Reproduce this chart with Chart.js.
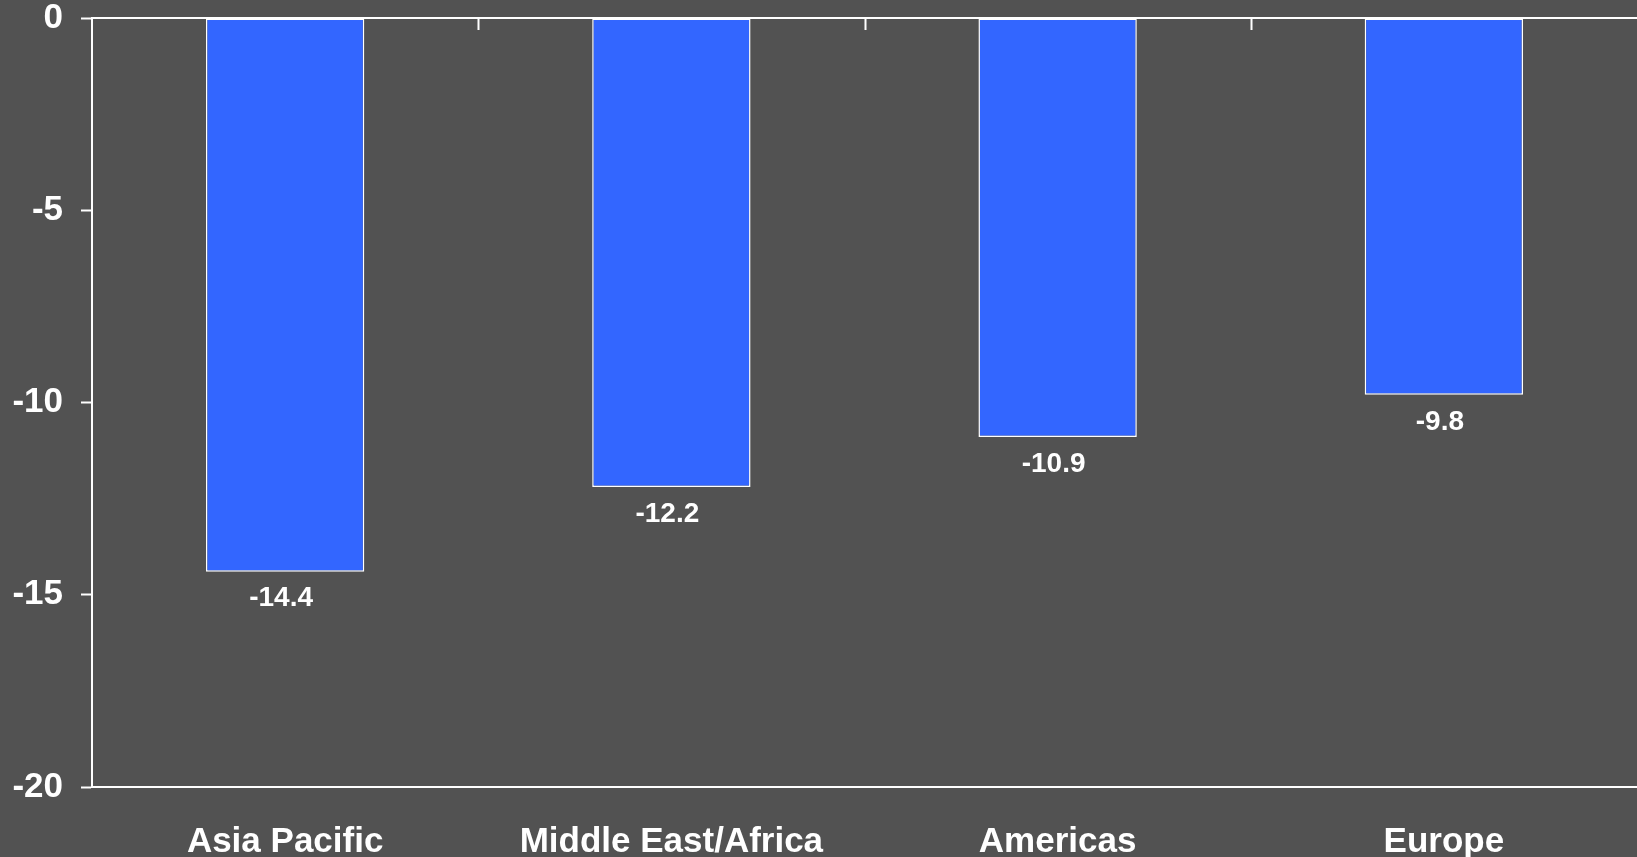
<!DOCTYPE html>
<html>
<head>
<meta charset="utf-8">
<script src="https://cdn.jsdelivr.net/npm/chart.js@4/dist/chart.umd.min.js"></script>
<style>
    html, body { margin: 0; padding: 0; background: #525252; }
    #wrap { width: 1637px; height: 857px; }
</style>
</head>
<body>
<div id="wrap"><canvas id="chart" width="1637" height="857"></canvas></div>
<script>
    var categories = ["Asia Pacific", "Middle East/Africa", "Americas", "Europe"];
    var values = [-14.4, -12.2, -10.9, -9.8];
    var yTicks = [0, -5, -10, -15, -20];

    var FONT = "'Liberation Sans', Arial, sans-serif";

    // white zero line with small ticks down at category boundaries
    var zeroLine = {
        id: "zeroLine",
        afterDatasetsDraw: function(chart) {
            var ctx = chart.ctx, x = chart.scales.x, y = chart.scales.y;
            var y0 = y.getPixelForValue(0);
            var step = (x.right - x.left) / categories.length;
            ctx.save();
            ctx.strokeStyle = "#ffffff";
            ctx.lineWidth = 2;
            ctx.beginPath();
            ctx.moveTo(x.left, y0);
            ctx.lineTo(x.right, y0);
            for (var i = 1; i < categories.length; i++) {
                var px = Math.round(x.left + step * i) + 0.5;
                ctx.moveTo(px, y0);
                ctx.lineTo(px, y0 + 12);
            }
            ctx.stroke();
            ctx.restore();
        }
    };

    var valueLabels = {
        id: "valueLabels",
        afterDatasetsDraw: function(chart) {
            var ctx = chart.ctx;
            var meta = chart.getDatasetMeta(0);
            ctx.save();
            ctx.fillStyle = "#ffffff";
            ctx.font = "bold 28px " + FONT;
            ctx.textAlign = "center";
            ctx.textBaseline = "middle";
            meta.data.forEach(function(bar, i) {
                ctx.fillText(values[i].toFixed(1), bar.x - 4, bar.y + 27);
            });
            ctx.restore();
        }
    };

    new Chart(document.getElementById("chart"), {
        type: "bar",
        data: {
            labels: categories,
            datasets: [{
                data: values,
                backgroundColor: "#3366ff",
                borderColor: "#ffffff",
                borderWidth: 1.5,
                borderSkipped: false,
                barPercentage: 0.41,
                categoryPercentage: 1.0
            }]
        },
        plugins: [zeroLine, valueLabels],
        options: {
            responsive: false,
            animation: false,
            layout: { padding: { top: 18, right: 0, left: 0, bottom: 0 } },
            plugins: { legend: { display: false }, tooltip: { enabled: false } },
            scales: {
                x: {
                    grid: { display: false },
                    border: { display: true, color: "#ffffff", width: 2 },
                    ticks: {
                        color: "#ffffff",
                        font: { family: FONT, size: 35, weight: "bold" },
                        padding: 26,
                        maxRotation: 0
                    },
                    afterFit: function(s) { s.height = 70; }
                },
                y: {
                    min: -20,
                    max: 0,
                    afterBuildTicks: function(s) {
                        s.ticks = yTicks.map(function(v) { return { value: v }; });
                    },
                    grid: {
                        drawOnChartArea: false,
                        tickLength: 11,
                        tickColor: "#ffffff",
                        tickWidth: 2
                    },
                    border: { display: true, color: "#ffffff", width: 2 },
                    ticks: {
                        color: "#ffffff",
                        font: { family: FONT, size: 35, weight: "bold" },
                        padding: 18
                    },
                    afterFit: function(s) {
                        s.width = 92;
                        s.paddingTop = 0;
                        s.paddingBottom = 0;
                    }
                }
            }
        }
    });
</script>
</body>
</html>
